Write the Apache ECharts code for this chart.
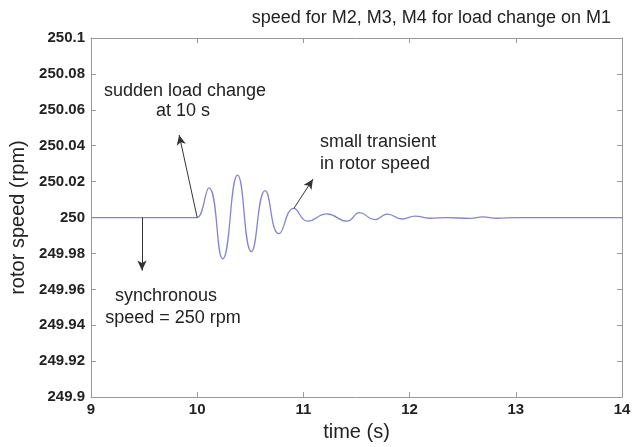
<!DOCTYPE html>
<html>
<head>
<meta charset="utf-8">
<script src="https://cdn.jsdelivr.net/npm/echarts@6/dist/echarts.min.js"></script>
<style>
    html, body { margin: 0; padding: 0; background: #fff; }
    #chart { width: 638px; height: 447px; }
</style>
</head>
<body>
<div id="chart"></div>
<script>
// values (peaks and troughs of the transient)
var times = [9, 9.98, 10.0, 10.11, 10.24, 10.38, 10.51, 10.64, 10.77, 10.91, 11.04, 11.22, 11.41,
    11.53, 11.67, 11.79, 11.93, 12.05, 12.19, 12.35, 12.57, 12.69, 12.82, 13.0, 14.0];
var speeds = [250, 250, 250, 250.0165, 249.977, 250.0236, 249.981, 250.015, 249.991, 250.0051, 249.998,
    250.002, 249.998, 250.0027, 249.9988, 250.0019, 249.9992, 250.0008, 249.9996, 250, 249.9995,
    250.0004, 249.9996, 250, 250];

// arrows: [from, to] in data units
var arrowLoad = [[10.0, 250], [9.83, 250.046]];
var arrowTransient = [[10.91, 250.0051], [11.09, 250.0214]];
var arrowSync = [[9.48, 250], [9.48, 249.9705]];

var fontFamily = 'Liberation Sans, Arial, sans-serif';
var labelFont = { fontFamily: fontFamily, fontSize: 18, fill: '#222' };

var chart = echarts.init(document.getElementById('chart'));

var points = [];
for (var i = 0; i < times.length; i++) {
    points.push([times[i], speeds[i]]);
}

function arrow(a) {
    return [{ coord: a[0], symbol: 'none' }, { coord: a[1], symbol: 'arrow', symbolSize: [7, 10] }];
}

var tickLabel = { color: '#222', fontSize: 15, fontWeight: 'bold', fontFamily: fontFamily };
var axisLine = { lineStyle: { color: '#999', width: 1 } };
var axisTick = { inside: true, length: 5, lineStyle: { color: '#999' } };
var nameStyle = { color: '#222', fontSize: 20, fontFamily: fontFamily };

chart.setOption({
    animation: false,
    title: {
        text: 'speed for M2, M3, M4 for load change on M1',
        right: 22,
        top: 4,
        textStyle: { color: '#222', fontSize: 18, fontWeight: 'normal', fontFamily: fontFamily }
    },
    grid: { left: 91, right: 16, top: 38, bottom: 40 },
    xAxis: [{
        type: 'value', min: 9, max: 14, interval: 1,
        name: 'time (s)', nameLocation: 'middle', nameGap: 20,
        nameTextStyle: nameStyle,
        axisLine: axisLine,
        axisTick: axisTick,
        axisLabel: Object.assign({ margin: 5 }, tickLabel),
        splitLine: { show: false }
    }, {
        type: 'value', position: 'top', min: 9, max: 14, interval: 1,
        axisLine: axisLine,
        axisTick: axisTick,
        axisLabel: { show: false },
        splitLine: { show: false }
    }],
    yAxis: [{
        type: 'value', min: 249.9, max: 250.1, interval: 0.02,
        name: 'rotor speed (rpm)', nameLocation: 'middle', nameGap: 63,
        nameTextStyle: nameStyle,
        axisLine: axisLine,
        axisTick: axisTick,
        axisLabel: Object.assign({
            margin: 6,
            formatter: function (v) { return String(+v.toFixed(2)); }
        }, tickLabel),
        splitLine: { show: false }
    }, {
        type: 'value', position: 'right', min: 249.9, max: 250.1, interval: 0.02,
        axisLine: axisLine,
        axisTick: axisTick,
        axisLabel: { show: false },
        splitLine: { show: false }
    }],
    series: [{
        type: 'line',
        data: points,
        smooth: 0.5,
        showSymbol: false,
        lineStyle: { color: '#8484d4', width: 1.3 },
        markLine: {
            silent: true,
            label: { show: false },
            lineStyle: { color: '#333', width: 1, type: 'solid' },
            data: [arrow(arrowLoad), arrow(arrowTransient), arrow(arrowSync)]
        }
    }],
    graphic: [
        { type: 'text', x: 185, y: 91, style: Object.assign({ text: 'sudden load change', textAlign: 'center', textVerticalAlign: 'middle' }, labelFont) },
        { type: 'text', x: 183, y: 111, style: Object.assign({ text: 'at 10 s', textAlign: 'center', textVerticalAlign: 'middle' }, labelFont) },
        { type: 'text', x: 320, y: 142, style: Object.assign({ text: 'small transient', textAlign: 'left', textVerticalAlign: 'middle' }, labelFont) },
        { type: 'text', x: 320, y: 164, style: Object.assign({ text: 'in rotor speed', textAlign: 'left', textVerticalAlign: 'middle' }, labelFont) },
        { type: 'text', x: 166, y: 296, style: Object.assign({ text: 'synchronous', textAlign: 'center', textVerticalAlign: 'middle' }, labelFont) },
        { type: 'text', x: 173, y: 318, style: Object.assign({ text: 'speed = 250 rpm', textAlign: 'center', textVerticalAlign: 'middle' }, labelFont) }
    ]
});
</script>
</body>
</html>
